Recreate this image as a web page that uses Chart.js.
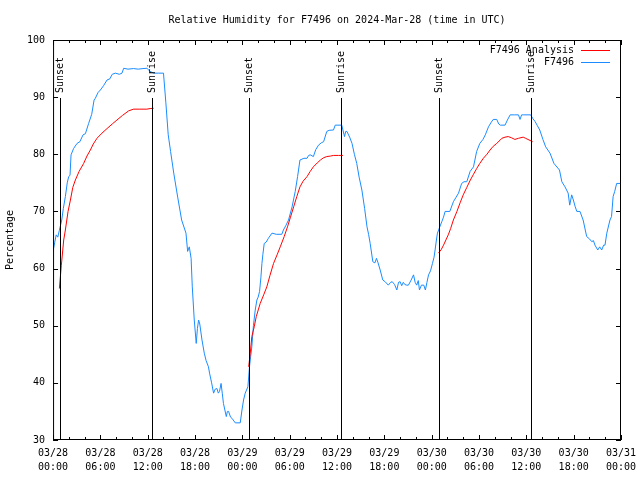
<!DOCTYPE html>
<html>
<head>
<meta charset="utf-8">
<script src="https://cdn.jsdelivr.net/npm/chart.js@4.4.1/dist/chart.umd.min.js"></script>
<style>
  html, body { margin: 0; padding: 0; background: #fff; }
  canvas { display: block; }
</style>
</head>
<body>
<canvas id="humidity" width="640" height="480"></canvas>
<script>
// hours since 03/28 00:00 UTC
var obsHours = [0.0, 0.2, 0.4, 0.6, 0.8, 1.1, 1.3, 1.56, 1.8, 1.98, 2.15, 2.28, 2.6, 3.04, 3.4, 3.8, 4.1, 4.51, 4.9, 5.2,
  5.36, 5.7, 6.0, 6.4, 6.84, 7.2, 7.5, 7.9, 8.4, 8.74, 8.95, 9.5, 10.2, 10.8, 11.4, 11.9, 12.3, 12.75, 13.4, 14.0,
  14.3, 14.6, 14.9, 15.3, 15.8, 16.3, 16.85, 17.06, 17.27, 17.5, 17.65, 17.9, 18.15, 18.3, 18.45, 18.6, 18.88, 19.17, 19.4, 19.7,
  19.84, 20.1, 20.35, 20.55, 20.78, 20.95, 21.1, 21.3, 21.45, 21.6, 21.96, 22.1, 22.25, 22.5, 22.68, 23.1, 23.73, 23.95, 24.15, 24.36,
  24.7, 24.9, 25.2, 25.4, 25.63, 25.84, 26.0, 26.18, 26.35, 26.48, 26.6, 26.77, 27.0, 27.3, 27.75, 28.3, 29.0, 29.2, 29.5, 29.85,
  30.3, 30.7, 31.0, 31.3, 31.8, 32.2, 32.4, 32.6, 33.0, 33.3, 33.65, 34.0, 34.3, 34.7, 35.0, 35.55, 35.77, 36.6, 36.95, 37.1,
  37.25, 37.6, 37.9, 38.2, 38.5, 38.8, 39.15, 39.5, 39.8, 40.0, 40.2, 40.54, 40.8, 41.0, 41.2, 41.47, 41.8, 42.1, 42.5, 42.8,
  43.0, 43.3, 43.58, 43.8, 44.0, 44.2, 44.4, 44.6, 44.85, 45.05, 45.4, 45.7, 45.9, 46.1, 46.3, 46.45, 46.7, 47.0, 47.2, 47.4,
  47.6, 47.85, 48.1, 48.3, 48.43, 48.6, 48.73, 49.0, 49.28, 49.5, 49.7, 50.3, 50.75, 51.1, 51.4, 51.8, 52.1, 52.45, 52.87, 53.3,
  53.7, 54.1, 54.5, 54.8, 55.2, 55.5, 55.8, 56.25, 56.5, 56.7, 57.3, 57.6, 57.95, 58.5, 59.0, 59.2, 59.4, 59.6, 60.55, 60.8,
  61.1, 61.4, 61.7, 62.1, 62.45, 63.0, 63.5, 64.2, 64.5, 64.9, 65.3, 65.5, 65.75, 65.96, 66.2, 66.4, 66.8, 67.2, 67.65, 68.0,
  68.3, 68.5, 68.7, 69.05, 69.3, 69.55, 69.8, 69.97, 70.2, 70.6, 70.8, 71.0, 71.2, 71.45, 71.9];
var obsValues = [63.0, 64.5, 65.9, 65.5, 66.7, 68.5, 70.5, 72.6, 75.0, 76.1, 76.3, 79.9, 81.0, 81.9, 82.2, 83.4, 83.6, 85.4, 87.0, 89.5,
  89.8, 90.8, 91.25, 92.0, 93.0, 93.2, 94.0, 94.2, 94.0, 94.2, 95.05, 94.9, 95.0, 94.9, 95.0, 95.05, 94.5, 94.2, 94.2, 94.2,
  89.0, 83.4, 80.5, 76.7, 72.5, 68.5, 66.2, 63.0, 63.8, 61.8, 56.8, 51.0, 46.9, 49.5, 51.0, 50.3, 47.5, 45.2, 43.9, 42.8,
  41.7, 40.0, 38.2, 38.9, 39.0, 38.2, 38.5, 39.9, 38.2, 36.4, 34.1, 35.0, 35.0, 34.0, 33.8, 33.0, 33.0, 35.25, 37.0, 38.2,
  39.3, 42.8, 46.3, 50.0, 52.75, 54.5, 55.0, 56.0, 58.5, 60.9, 62.5, 64.4, 64.6, 65.3, 66.2, 66.0, 66.0, 66.75, 67.5, 68.5,
  70.8, 73.5, 76.1, 79.0, 79.3, 79.3, 79.8, 79.9, 79.6, 80.8, 81.6, 82.0, 82.2, 84.0, 84.2, 84.25, 85.1, 85.1, 83.1, 84.0,
  84.0, 83.0, 81.9, 80.0, 78.4, 76.0, 73.75, 70.5, 67.3, 66.0, 64.4, 61.2, 61.0, 61.8, 61.0, 59.75, 58.0, 57.7, 57.1, 57.6,
  57.7, 57.2, 56.25, 57.6, 57.7, 57.0, 57.6, 57.2, 57.1, 57.1, 58.0, 58.9, 57.6, 57.1, 57.9, 56.25, 57.1, 57.1, 56.25, 57.6,
  58.9, 59.6, 60.9, 62.0, 63.25, 65.0, 66.2, 67.2, 68.2, 69.0, 70.0, 70.0, 71.7, 72.5, 73.2, 74.9, 75.2, 75.2, 77.0, 77.8,
  80.5, 81.9, 82.6, 83.4, 84.8, 85.5, 86.1, 86.1, 85.3, 85.1, 85.1, 86.0, 86.9, 86.9, 86.9, 86.1, 86.9, 86.9, 86.9, 86.3,
  85.75, 85.0, 84.25, 82.6, 81.3, 80.2, 78.4, 77.25, 75.2, 74.3, 73.2, 71.1, 72.9, 72.0, 70.8, 70.0, 70.0, 68.5, 65.6, 65.2,
  64.7, 64.9, 64.1, 63.25, 63.8, 63.25, 64.1, 64.1, 66.2, 68.5, 69.1, 72.6, 73.5, 74.9, 74.9];

// analysis only exists during each night (null = gap)
var anaHours = [0.8, 1.05, 1.35, 1.56, 1.9, 2.2, 2.5, 2.83, 3.3, 3.88, 4.3, 4.73, 5.1, 5.57, 6.2, 6.84, 7.5, 8.1, 8.8, 9.58,
  10.2, 11.0, 11.9, 12.3, 12.75, 18.0,
  24.8, 25.0, 25.2, 25.5, 25.76, 26.26, 26.7, 27.1, 27.5, 27.95, 28.4, 28.8, 29.3, 29.72, 30.1, 30.5, 30.9, 31.3, 31.7, 32.2,
  32.6, 33.0, 33.5, 33.9, 34.3, 34.7, 35.2, 35.55, 36.2, 36.75, 42.0,
  48.85, 49.2, 49.5, 49.8, 50.1, 50.4, 50.75, 51.2, 51.6, 52.0, 52.45, 52.9, 53.3, 53.7, 54.1, 54.55, 55.0, 55.4, 55.8, 56.25,
  56.9, 57.3, 57.7, 58.1, 58.55, 59.0, 59.6, 59.9, 60.2, 60.8];
var anaValues = [56.5, 60.6, 65.0, 66.75, 70.0, 72.0, 74.2, 75.5, 77.0, 78.4, 79.7, 80.75, 81.8, 82.8, 83.7, 84.5, 85.3, 86.0, 86.8, 87.6,
  87.9, 87.9, 87.9, 88.0, 88.05, null,
  42.8, 45.2, 48.1, 49.8, 51.6, 53.9, 55.4, 56.8, 58.8, 60.9, 62.4, 63.8, 65.6, 67.3, 69.0, 70.8, 72.6, 74.3, 75.3, 76.1,
  77.0, 77.8, 78.5, 79.0, 79.4, 79.6, 79.7, 79.8, 79.8, 79.8, null,
  62.7, 63.3, 64.1, 65.0, 65.9, 67.0, 68.5, 70.0, 71.5, 72.9, 74.2, 75.5, 76.5, 77.5, 78.4, 79.3, 80.0, 80.75, 81.4, 81.9,
  82.8, 83.0, 83.1, 82.9, 82.6, 82.8, 83.0, 82.8, 82.6, 82.2];

var sunHours = [0.9, 12.55, 24.85, 36.5, 48.93, 60.6];
var sunLabels = ['Sunset', 'Sunrise', 'Sunset', 'Sunrise', 'Sunset', 'Sunrise'];

var tickDays = ['03/28', '03/29', '03/30', '03/31'];

var MONO = '"DejaVu Sans Mono", "Liberation Mono", monospace';

function pairs(xs, ys) {
  return xs.map(function(x, i) { return { x: x, y: ys[i] }; });
}

// gnuplot style: frame, inward ticks, sun lines, legend in the corner
var gnuplotDecor = {
  id: 'gnuplotDecor',
  afterDatasetsDraw: function(chart) {
    var ctx = chart.ctx;
    var a = chart.chartArea;
    var xs = chart.scales.x, ys = chart.scales.y;
    ctx.save();
    ctx.strokeStyle = '#000';
    ctx.lineWidth = 1;

    ctx.strokeRect(a.left + 0.5, a.top + 0.5, a.right - a.left - 1, a.bottom - a.top - 1);

    ctx.beginPath();
    for (var h = 0; h <= 72; h += 2) {
      var px = Math.round(xs.getPixelForValue(h)) + 0.5;
      var len = (h % 6 === 0) ? 5 : 3;
      ctx.moveTo(px, a.bottom); ctx.lineTo(px, a.bottom - len);
      ctx.moveTo(px, a.top); ctx.lineTo(px, a.top + len);
    }
    for (var v = 30; v <= 100; v += 10) {
      var py = Math.round(ys.getPixelForValue(v)) + 0.5;
      ctx.moveTo(a.left, py); ctx.lineTo(a.left + 5, py);
      ctx.moveTo(a.right, py); ctx.lineTo(a.right - 5, py);
    }
    ctx.stroke();

    ctx.font = '10px ' + MONO;
    ctx.fillStyle = '#000';
    sunHours.forEach(function(hr, i) {
      var px = Math.round(xs.getPixelForValue(hr)) + 0.5;
      ctx.beginPath();
      ctx.moveTo(px, a.top + 58);
      ctx.lineTo(px, a.bottom);
      ctx.stroke();
      ctx.save();
      ctx.translate(px, a.top + 53);
      ctx.rotate(-Math.PI / 2);
      ctx.textAlign = 'left';
      ctx.textBaseline = 'middle';
      ctx.fillText(sunLabels[i], 0, 0);
      ctx.restore();
    });

    ctx.textAlign = 'right';
    ctx.textBaseline = 'middle';
    chart.data.datasets.forEach(function(ds, i) {
      var ty = a.top + 10 + i * 12;
      ctx.fillStyle = '#000';
      ctx.fillText(ds.label, a.right - 47, ty);
      ctx.strokeStyle = ds.borderColor;
      ctx.beginPath();
      ctx.moveTo(a.right - 40, Math.round(ty) + 0.5);
      ctx.lineTo(a.right - 11, Math.round(ty) + 0.5);
      ctx.stroke();
    });
    ctx.restore();
  }
};

var ctx = document.getElementById('humidity').getContext('2d');
var chart = new Chart(ctx, {
  type: 'line',
  data: {
    datasets: [{
      label: 'F7496 Analysis',
      data: pairs(anaHours, anaValues),
      borderColor: '#ff0000',
      borderWidth: 1,
      pointRadius: 0,
      tension: 0,
      spanGaps: false
    }, {
      label: 'F7496',
      data: pairs(obsHours, obsValues),
      borderColor: '#1a8cff',
      borderWidth: 1,
      pointRadius: 0,
      tension: 0
    }]
  },
  options: {
    responsive: false,
    animation: false,
    devicePixelRatio: 1,
    layout: { padding: { left: 0, right: 19, top: 0, bottom: 0 } },
    plugins: {
      legend: { display: false },
      tooltip: { enabled: false },
      title: {
        display: true,
        fullSize: false,
        text: 'Relative Humidity for F7496 on 2024-Mar-28 (time in UTC)',
        color: '#000',
        font: { family: MONO, size: 10, weight: 'normal' },
        padding: { top: 14, bottom: 14 }
      }
    },
    scales: {
      x: {
        type: 'linear',
        min: 0,
        max: 72,
        grid: { display: false, drawTicks: false },
        border: { display: false },
        afterFit: function(scale) {
          scale.paddingLeft = 15;
          scale.paddingRight = 15;
        },
        ticks: {
          stepSize: 6,
          autoSkip: false,
          maxRotation: 0,
          padding: 6,
          color: '#000',
          font: { family: MONO, size: 10, lineHeight: 1.4 },
          callback: function(value) {
            var day = tickDays[Math.floor(value / 24)];
            var hh = value % 24;
            return [day, (hh < 10 ? '0' : '') + hh + ':00'];
          }
        }
      },
      y: {
        min: 30,
        max: 100,
        grid: { display: false, drawTicks: false },
        border: { display: false },
        ticks: {
          stepSize: 10,
          padding: 8,
          color: '#000',
          font: { family: MONO, size: 10 }
        },
        title: {
          display: true,
          text: 'Percentage',
          color: '#000',
          font: { family: MONO, size: 10 },
          padding: { top: 4, bottom: 3 }
        }
      }
    }
  },
  plugins: [gnuplotDecor]
});
</script>
</body>
</html>
